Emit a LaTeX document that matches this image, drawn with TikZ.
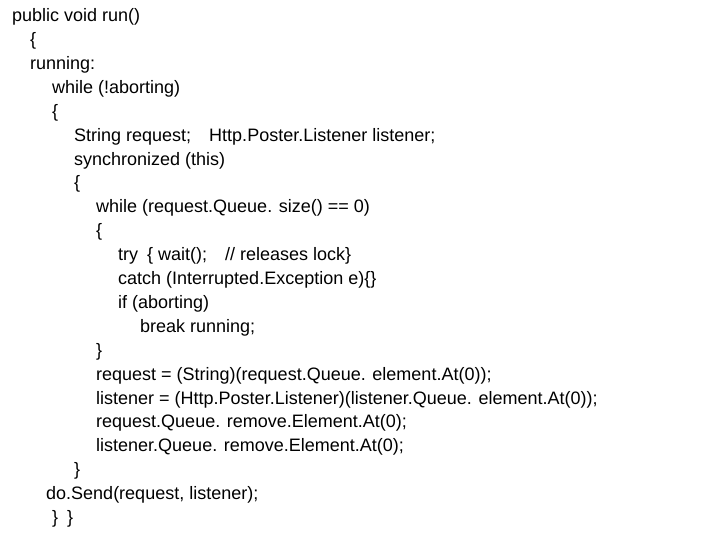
\documentclass[tikz,border=0pt]{standalone}
\usepackage{fontspec}
\setmainfont{Liberation Sans}
\usetikzlibrary{positioning}

\begin{document}
\begin{tikzpicture}[x=1pt, y=-1pt, codeline/.style={anchor=west, inner sep=0pt, font=\fontsize{18}{20}\selectfont}]
    \useasboundingbox (0,0) rectangle (720,540);
    % Code lines: indent / text
    \foreach \ind/\txt [count=\i from 0] in {
        12/{public void run()},
        30/{\{},
        30/{running:},
        52/{while (!aborting)},
        52/{\{},
        74/{String request;\quad Http.Poster.Listener listener;},
        74/{synchronized (this)},
        74/{\{},
        96/{while (request.Queue. size() == 0)},
        96/{\{},
        118/{try\enspace\{ wait();\quad // releases lock\}},
        118/{catch (Interrupted.Exception e)\{\}},
        118/{if (aborting)},
        140/{break running;},
        96/{\}},
        96/{request = (String)(request.Queue. element.At(0));},
        96/{listener = (Http.Poster.Listener)(listener.Queue. element.At(0));},
        96/{request.Queue. remove.Element.At(0);},
        96/{listener.Queue. remove.Element.At(0);},
        74/{\}},
        46/{do.Send(request, listener);},
        52/{\}\enspace\}}}
        \node[codeline] (l\i) at (\ind, 17+23.9*\i) {\txt};
\end{tikzpicture}
\end{document}
